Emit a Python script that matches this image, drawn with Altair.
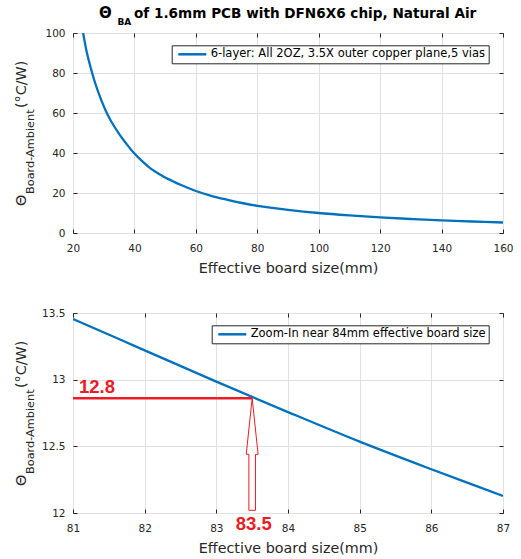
import altair as alt
import pandas as pd

# ---------------- data ----------------
top_x = [23.3, 24.4, 25.7, 27.0, 28.5, 30.7, 32.5, 35.0, 37.5, 40.0, 42.5, 45.0,
         47.5, 50.0, 52.5, 55.0, 60.0, 65.0, 70.0, 75.0, 80.0, 90.0, 100.0, 110.0,
         120.0, 130.0, 140.0, 150.0, 160.0]
top_y = [100.0, 91.0, 83.0, 76.0, 69.3, 61.0, 55.6, 49.6, 44.4, 39.7, 35.9, 32.6,
         30.0, 27.8, 25.9, 24.1, 21.0, 18.6, 16.7, 15.0, 13.6, 11.6, 10.0, 8.8,
         7.8, 7.0, 6.3, 5.75, 5.25]
top_series = "6-layer: All 2OZ, 3.5X outer copper plane,5 vias"

zoom_x = [81, 82, 83, 84, 85, 86, 87]
zoom_y = [13.455, 13.22, 12.985, 12.757, 12.535, 12.328, 12.128]
zoom_series = "Zoom-In near 84mm effective board size"

ann_x = 83.5
ann_y = 12.86
ann_y_label = "12.8"
ann_x_label = "83.5"

top_xdom = [20, 160]
top_ydom = [0, 100]
top_xticks = [20, 40, 60, 80, 100, 120, 140, 160]
top_yticks = [0, 20, 40, 60, 80, 100]
zoom_xdom = [81, 87]
zoom_ydom = [12, 13.5]
zoom_xticks = [81, 82, 83, 84, 85, 86, 87]
zoom_yticks = [12, 12.5, 13, 13.5]

title_parts = ["\u0398", "BA", "of 1.6mm PCB with DFN6X6 chip, Natural Air"]
ytitle_parts = ["\u0398", "Board-Ambient", "(\u00b0C/W)"]
xtitle = "Effective board size(mm)"

# ---------------- style ----------------
BLUE = "#0072bd"
RED = "#ed1c24"
INK = "#262626"
FONT = "DejaVu Sans"
W, H = 430, 200


def main_axis(values, title, pad):
    kw = dict(values=values, labelPadding=pad, format="~f", labelFlush=False,
              labelOverlap=False,
              labelFont=FONT, labelFontSize=10.5, labelColor=INK,
              titleFont=FONT, titleFontSize=14.3, titleColor=INK,
              titleFontWeight="normal", gridColor="#e0e0e0", gridWidth=1,
              domain=False, ticks=False, tickSize=0)
    if title is None:
        kw["title"] = None
    else:
        kw["title"] = title
        kw["titlePadding"] = 7.5
    return alt.Axis(**kw)


def tick_axis(orient, values):
    return alt.Axis(orient=orient, values=values, offset=-4, labels=False,
                    domain=False, grid=False, ticks=True, tickSize=4,
                    tickColor=INK, tickWidth=1, title=None)


def text_layer(txt, x, y, **mk):
    d = pd.DataFrame({"t": [txt]})
    return alt.Chart(d).mark_text(**mk).encode(
        text="t:N", x=alt.value(x), y=alt.value(y))


def ytitle_layers():
    common = dict(angle=270, align="left", baseline="alphabetic", font=FONT,
                  color=INK)
    return [
        text_layer(ytitle_parts[0], -47, 173, fontSize=14.3, **common),
        text_layer(ytitle_parts[1], -39, 161, fontSize=11.3, **common),
        text_layer(ytitle_parts[2], -47, 75, fontSize=14.3, **common),
    ]


def panel(xs, ys, series, xdom, ydom, xticks, yticks, legend_x, extra):
    df = pd.DataFrame({"x": xs, "y": ys, "series": [series] * len(xs)})
    xsc = alt.Scale(domain=xdom, nice=False, zero=False)
    ysc = alt.Scale(domain=ydom, nice=False, zero=False)
    legend = alt.Legend(title=None, orient="none", legendX=legend_x, legendY=12.3,
                        symbolType="M-3,0H3", symbolSize=87, symbolStrokeWidth=2.5,
                        symbolOffset=11.6, labelOffset=12.4, labelFont=FONT,
                        labelFontSize=11.5, labelColor="#000000", padding=3,
                        fillColor="white", strokeColor=INK, labelLimit=0)
    line = alt.Chart(df).mark_line(clip=True, strokeWidth=2.3,
                                   interpolate="catmull-rom").encode(
        x=alt.X("x:Q", scale=xsc, axis=main_axis(xticks, xtitle, 10)),
        y=alt.Y("y:Q", scale=ysc, axis=main_axis(yticks, None, 8)),
        color=alt.Color("series:N", scale=alt.Scale(range=[BLUE]), legend=legend),
    )
    t1 = alt.Chart(df).mark_line(strokeOpacity=0).encode(
        x=alt.X("x:Q", axis=tick_axis("bottom", xticks)),
        y=alt.Y("y:Q", axis=tick_axis("left", yticks)),
    )
    t2 = alt.Chart(df).mark_line(strokeOpacity=0).encode(
        x=alt.X("x:Q", axis=tick_axis("top", xticks)),
        y=alt.Y("y:Q", axis=tick_axis("right", yticks)),
    )
    layers = [line, t1, t2] + ytitle_layers() + extra
    return alt.layer(*layers).resolve_axis(x="independent", y="independent").properties(
        width=W, height=H)


# ---- top panel extras: title + origin anchor ----
anchor = alt.Chart(pd.DataFrame({"a": [0]})).mark_rule(opacity=0).encode(
    x=alt.value(-72), x2=alt.value(-72), y=alt.value(-32), y2=alt.value(-31))
title_layers = [
    text_layer(title_parts[0], 26, -15, font=FONT, fontWeight="bold", fontSize=15,
               align="left", baseline="alphabetic", color="#000000"),
    text_layer(title_parts[1], 44.5, -8, font=FONT, fontWeight="bold", fontSize=9,
               align="left", baseline="alphabetic", color="#000000"),
    text_layer(title_parts[2], 61, -15, font=FONT, fontWeight="bold", fontSize=13.6,
               align="left", baseline="alphabetic", color="#000000"),
]

top = panel(top_x, top_y, top_series, top_xdom, top_ydom, top_xticks, top_yticks,
            98.7, [anchor] + title_layers)

# ---- bottom panel extras: red annotation ----
hline_df = pd.DataFrame({"x0": [zoom_x[0]], "x1": [ann_x], "y": [ann_y]})
hline = alt.Chart(hline_df).mark_rule(color=RED, strokeWidth=2.5).encode(
    x=alt.X("x0:Q", axis=None), x2="x1:Q", y=alt.Y("y:Q", axis=None))

arrow_base = zoom_ydom[0] + 0.02
arrow_len_px = (ann_y - arrow_base) / (zoom_ydom[1] - zoom_ydom[0]) * H
ARROW = "M0,-1L0.106,0L0.059,0L0.059,1L-0.059,1L-0.059,0L-0.106,0Z"
arrow_df = pd.DataFrame({"x": [ann_x], "y": [(ann_y + arrow_base) / 2]})
arrow = alt.Chart(arrow_df).mark_point(shape=ARROW, filled=False, opacity=1,
                                       strokeWidth=1, color=RED,
                                       size=arrow_len_px ** 2).encode(
    x=alt.X("x:Q", axis=None), y=alt.Y("y:Q", axis=None))

lab_y_df = pd.DataFrame({"x": [zoom_x[0]], "y": [ann_y], "t": [ann_y_label]})
lab_y = alt.Chart(lab_y_df).mark_text(align="left", baseline="alphabetic", dx=6, dy=-5,
                                      font="Liberation Sans", fontWeight="bold",
                                      fontSize=18.5, color=RED).encode(
    x=alt.X("x:Q", axis=None), y=alt.Y("y:Q", axis=None), text="t:N")

lab_x_df = pd.DataFrame({"x": [ann_x], "y": [zoom_ydom[0]], "t": [ann_x_label]})
lab_x = alt.Chart(lab_x_df).mark_text(align="center", baseline="alphabetic", dx=1.5, dy=17,
                                      font="Liberation Sans", fontWeight="bold",
                                      fontSize=18.5, color=RED).encode(
    x=alt.X("x:Q", axis=None), y=alt.Y("y:Q", axis=None), text="t:N")

bottom = panel(zoom_x, zoom_y, zoom_series, zoom_xdom, zoom_ydom, zoom_xticks,
               zoom_yticks, 138.7, [hline, arrow, lab_y, lab_x])

chart = alt.vconcat(top, bottom, spacing=80, bounds="flush", padding=0).resolve_scale(
    color="independent").configure_view(stroke=INK, strokeWidth=1)

chart.save("out.html", embed_options={"renderer": "svg", "actions": False})
